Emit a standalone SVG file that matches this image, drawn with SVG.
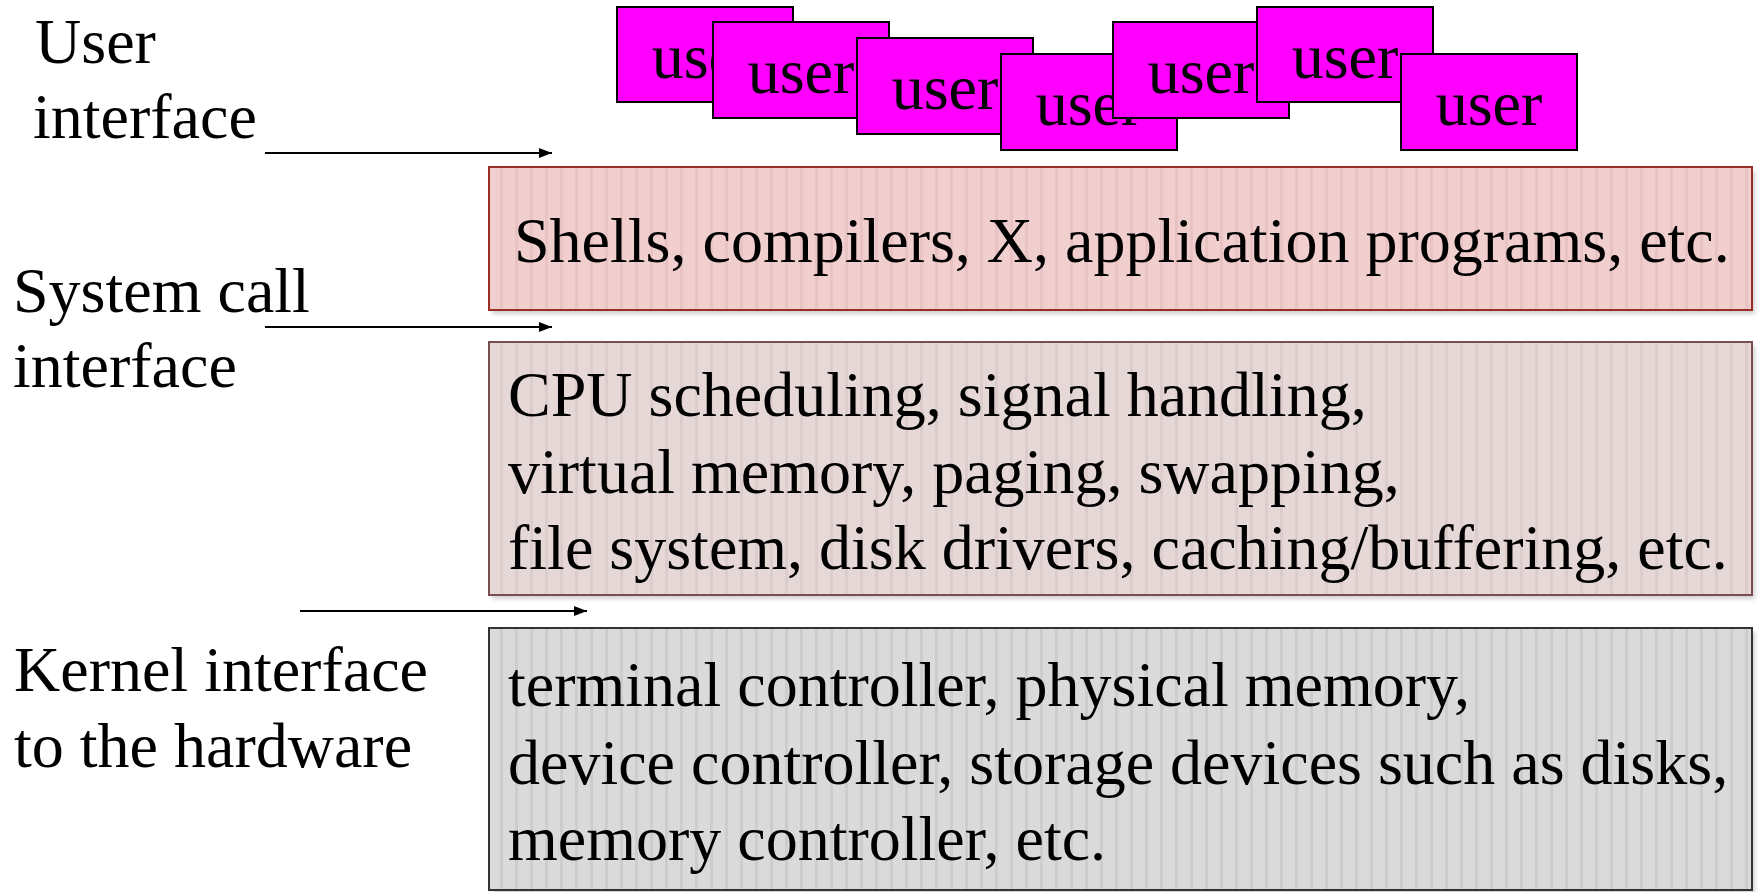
<svg xmlns="http://www.w3.org/2000/svg" width="1758" height="892" viewBox="0 0 1758 892">
  <style>
    text { font-family: "Liberation Serif", "Times New Roman", serif; font-size: 64px; fill: #000; }
    .user rect { fill: #FF00FF; stroke: #000; stroke-width: 2; }
    .user text { text-anchor: middle; }
    .conn line { stroke: #000; stroke-width: 2; }
    .shadow { fill: #000; opacity: 0.18; }
  </style>
  <defs>
    <marker id="arrow" markerUnits="userSpaceOnUse" markerWidth="14" markerHeight="12" refX="13" refY="5" orient="auto">
      <path d="M0,0 L13,5 L0,10 z" fill="#000"/>
    </marker>
    <pattern id="stripeA" patternUnits="userSpaceOnUse" x="489" y="0" width="15" height="10">
      <rect width="15" height="10" fill="#F2CFCF"/>
      <rect x="11" width="3" height="10" fill="#E9C3C3"/>
    </pattern>
    <pattern id="stripeB" patternUnits="userSpaceOnUse" x="489" y="0" width="15" height="10">
      <rect width="15" height="10" fill="#E7D8D8"/>
      <rect x="11" width="3" height="10" fill="#DDCCCC"/>
    </pattern>
    <pattern id="stripeC" patternUnits="userSpaceOnUse" x="489" y="0" width="15" height="10">
      <rect width="15" height="10" fill="#DADADA"/>
      <rect x="11" width="3" height="10" fill="#CDCDCD"/>
    </pattern>
    <filter id="blur" x="-5%" y="-5%" width="110%" height="110%">
      <feGaussianBlur stdDeviation="2"/>
    </filter>
  </defs>

  <g id="label-user-interface">
    <text x="35" y="63">User</text>
    <text x="33" y="138">interface</text>
  </g>
  <g id="label-syscall-interface">
    <text x="13" y="312">System call</text>
    <text x="13" y="387">interface</text>
  </g>
  <g id="label-kernel-interface">
    <text x="14" y="691">Kernel interface</text>
    <text x="14" y="767">to the hardware</text>
  </g>

  <g id="users">
    <g id="user1" class="user"><rect x="617" y="7" width="176" height="95"/><text x="705" y="78">user</text></g>
    <g id="user2" class="user"><rect x="713" y="22" width="176" height="96"/><text x="801" y="93">user</text></g>
    <g id="user3" class="user"><rect x="857" y="38" width="176" height="96"/><text x="945" y="109">user</text></g>
    <g id="user4" class="user"><rect x="1001" y="54" width="176" height="96"/><text x="1089" y="125">user</text></g>
    <g id="user5" class="user"><rect x="1113" y="22" width="176" height="96"/><text x="1201" y="93">user</text></g>
    <g id="user6" class="user"><rect x="1257" y="7" width="176" height="95"/><text x="1345" y="78">user</text></g>
    <g id="user7" class="user"><rect x="1401" y="54" width="176" height="96"/><text x="1489" y="125">user</text></g>
  </g>

  <g id="layer-apps">
    <rect class="shadow" x="492" y="171" width="1263" height="143" filter="url(#blur)"/>
    <rect x="489" y="167" width="1263" height="143" fill="url(#stripeA)" stroke="#9A2E24" stroke-width="2"/>
    <text x="514" y="262">Shells, compilers, X, application programs, etc.</text>
  </g>

  <g id="layer-kernel">
    <rect class="shadow" x="492" y="346" width="1263" height="253" filter="url(#blur)"/>
    <rect x="489" y="342" width="1263" height="253" fill="url(#stripeB)" stroke="#7A4E4E" stroke-width="2"/>
    <text x="508" y="416">CPU scheduling, signal handling,</text>
    <text x="508" y="493">virtual memory, paging, swapping,</text>
    <text x="508" y="569">file system, disk drivers, caching/buffering, etc.</text>
  </g>

  <g id="layer-hardware">
    <rect class="shadow" x="492" y="632" width="1263" height="262" filter="url(#blur)"/>
    <rect x="489" y="628" width="1263" height="262" fill="url(#stripeC)" stroke="#333" stroke-width="2"/>
    <text x="508" y="706">terminal controller, physical memory,</text>
    <text x="508" y="784">device controller, storage devices such as disks,</text>
    <text x="508" y="860">memory controller, etc.</text>
  </g>

  <g id="connectors" class="conn">
    <line x1="265" y1="153" x2="552" y2="153" marker-end="url(#arrow)"/>
    <line x1="265" y1="327" x2="552" y2="327" marker-end="url(#arrow)"/>
    <line x1="300" y1="611" x2="587" y2="611" marker-end="url(#arrow)"/>
  </g>
</svg>
